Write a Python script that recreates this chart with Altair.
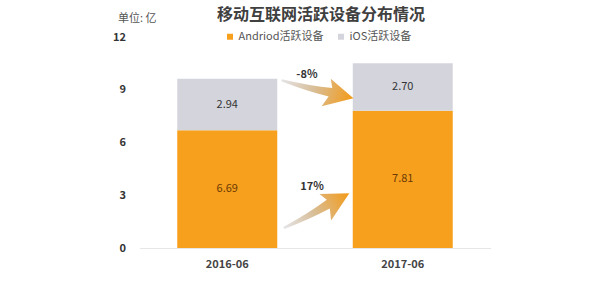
import altair as alt
import pandas as pd

# ---- data ----
periods = ["2016-06", "2017-06"]
android = [6.69, 7.81]
ios = [2.94, 2.70]
series = ["Andriod活跃设备", "iOS活跃设备"]
colors = ["#F7A01D", "#D4D5DC"]
label_colors = ["#6B3A05", "#333333"]
y_ticks = [0, 3, 6, 9, 12]

FONT = "Noto Sans CJK SC"

rows = []
for i, p in enumerate(periods):
    base = 0.0
    for k, (s, vals) in enumerate(zip(series, [android, ios])):
        v = vals[i]
        rows.append(dict(period=p, series=s, value=v, start=base, end=base + v,
                         mid=base + v / 2, label=f"{v:.2f}", order=k,
                         lcolor=label_colors[k]))
        base += v
df = pd.DataFrame(rows)

# change annotations (growth computed from the values)
chg_ios = (ios[1] - ios[0]) / ios[0]
chg_and = (android[1] - android[0]) / android[0]
ann = pd.DataFrame({
    "ax": [1.014, 1.009],
    "ay": [9.03, 2.13],
    "angle": [14, 332],
    "tx": [0.954, 0.983],
    "ty": [9.83, 3.47],
    "txt": [f"{chg_ios:.0%}", f"{chg_and:.0%}"],
})

bscale = alt.Scale(domain=periods, paddingInner=0.43, paddingOuter=0.215)
xenc = alt.X("period:N", scale=bscale,
             axis=alt.Axis(title=None, labelAngle=0, ticks=False, labelPadding=10,
                           labelFontSize=11, labelFontWeight="bold", labelColor="#444444",
                           labelFont=FONT, domainColor="#E6E6E6", domainWidth=1),
             )
yscale = alt.Scale(domain=[0, 12], nice=False)

bars = alt.Chart(df).mark_bar(size=100).encode(
    x=xenc,
    y=alt.Y("start:Q", scale=yscale,
            axis=alt.Axis(values=y_ticks, grid=False, domain=False, ticks=False,
                          labelPadding=14, labelFontSize=11, labelColor="#333333",
                          labelFont=FONT, labelFontWeight="bold",
                          title="单位: 亿", titleAngle=0, titleAlign="left",
                          titleBaseline="middle", titleX=-22, titleY=-19,
                          titleFontSize=11, titleFontWeight="normal",
                          titleColor="#555555", titleFont=FONT)),
    y2="end:Q",
    color=alt.Color("series:N", scale=alt.Scale(domain=series, range=colors),
                    legend=alt.Legend(title=None, orient="none", direction="horizontal",
                                      legendX=85, legendY=-6, symbolType="square",
                                      symbolSize=36, symbolStrokeWidth=0,
                                      labelFontSize=11, labelColor="#555555",
                                      labelFont=FONT, columnPadding=12, padding=0,
                                      labelOffset=3)),
    order=alt.Order("order:Q"),
)

labels = alt.Chart(df).mark_text(fontSize=11, font=FONT).encode(
    x=alt.X("period:N", scale=bscale, axis=None),
    y=alt.Y("mid:Q", scale=yscale),
    text="label:N",
    color=alt.Color("lcolor:N", scale=None),
)

grad = alt.Gradient(
    gradient="linear",
    stops=[alt.GradientStop(color="#E4E4E8", offset=0),
           alt.GradientStop(color="#D8BE98", offset=0.45),
           alt.GradientStop(color="#F39A17", offset=1)],
    x1=0, x2=1, y1=0, y2=0,
)
ARROW = ("M -1 -0.03 Q -0.2 -0.04 0.38 -0.13 L 0.28 -0.36 L 1 0 "
         "L 0.22 0.42 L 0.34 0.12 Q -0.3 0.12 -1 0.03 Z")

qx = alt.Scale(domain=[0, 2], nice=False, zero=False)
arrows = alt.Chart(ann).mark_point(shape=ARROW, filled=True, fill=grad, opacity=1,
                                   strokeWidth=0, size=5500).encode(
    x=alt.X("ax:Q", scale=qx, axis=None),
    y=alt.Y("ay:Q", scale=yscale),
    angle=alt.Angle("angle:Q", scale=None),
)
pct = alt.Chart(ann).mark_text(fontSize=11, fontWeight="bold", font=FONT,
                               color="#333333").encode(
    x=alt.X("tx:Q", scale=qx, axis=None),
    y=alt.Y("ty:Q", scale=yscale),
    text="txt:N",
)

chart = alt.layer(bars, labels, arrows, pct).resolve_scale(x="independent").properties(
    width=351, height=211,
    autosize=alt.AutoSizeParams(type="none"),
    padding={"left": 139.5, "top": 37, "right": 120.5, "bottom": 50},
    background="white",
    title=alt.TitleParams("移动互联网活跃设备分布情况", fontSize=16, fontWeight="bold",
                          color="#404040", font=FONT, anchor="middle", offset=-11, dx=6),
).configure_view(stroke=None)

chart.save("out.html", embed_options={"renderer": "svg", "actions": False})
